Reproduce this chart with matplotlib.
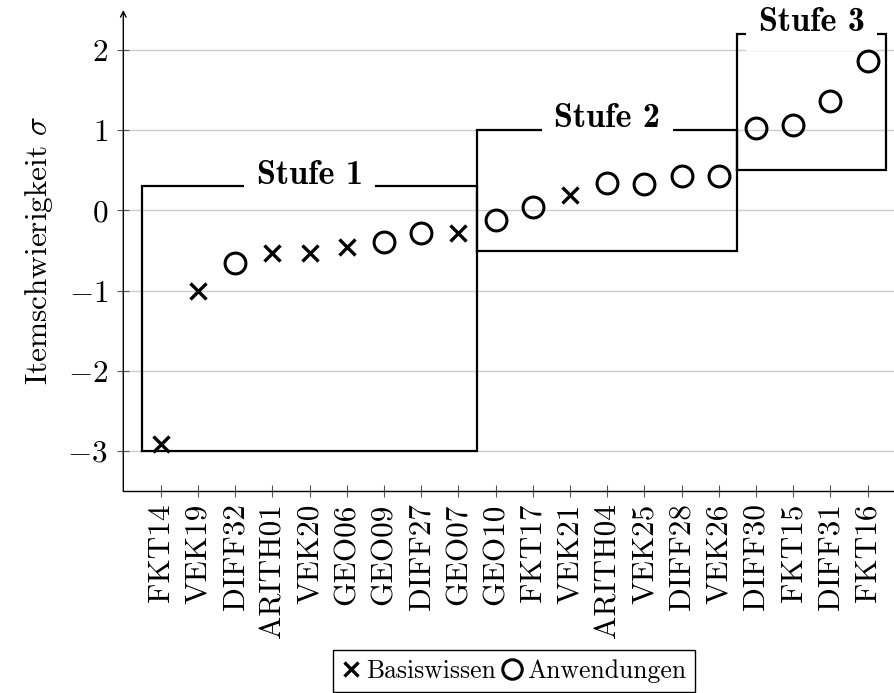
import numpy as np
import matplotlib
matplotlib.use("Agg")
import matplotlib.pyplot as plt
from matplotlib.lines import Line2D

plt.rcParams["font.family"] = "serif"
plt.rcParams["font.serif"] = ["cmr10"]
plt.rcParams["mathtext.fontset"] = "cm"
plt.rcParams["axes.formatter.use_mathtext"] = True

# items in order along the x axis
items = ["FKT14", "VEK19", "DIFF32", "ARITH01", "VEK20", "GEO06", "GEO09",
         "DIFF27", "GEO07", "GEO10", "FKT17", "VEK21", "ARITH04", "VEK25",
         "DIFF28", "VEK26", "DIFF30", "FKT15", "DIFF31", "FKT16"]
difficulty = [-2.91, -1.01, -0.65, -0.53, -0.53, -0.46, -0.40, -0.28, -0.28,
              -0.12, 0.04, 0.19, 0.34, 0.33, 0.43, 0.43, 1.03, 1.07, 1.36, 1.86]
kind = ["B", "B", "A", "B", "B", "B", "A", "A", "B", "A", "A", "B", "A", "A",
        "A", "A", "A", "A", "A", "A"]  # B = Basiswissen, A = Anwendungen

# Stufen boxes
stufe_names = ["Stufe 1", "Stufe 2", "Stufe 3"]
stufe_x0 = [0.5, 9.5, 16.5]
stufe_x1 = [9.5, 16.5, 20.5]
stufe_y0 = [-3.0, -0.5, 0.5]
stufe_y1 = [0.3, 1.0, 2.2]

fig = plt.figure(figsize=(8.94, 6.93), dpi=100)
ax = fig.add_axes([123.3 / 894, 1 - 491 / 693, (894 - 123.3) / 894, (491 - 10) / 693])

x = np.arange(1, len(items) + 1)
diff = np.array(difficulty)
kind = np.array(kind)

ax.set_xlim(-0.01, 20.71)
ax.set_ylim(-3.5, 2.5)
ax.set_yticks([-3, -2, -1, 0, 1, 2])
ax.set_xticks(x)
ax.set_xticklabels(items, rotation=90, fontsize=22.5)
ax.tick_params(axis="y", labelsize=22.5, direction="inout", length=8, color="#555555",
               width=0.8, pad=7)
ax.tick_params(axis="x", direction="inout", length=8, color="#555555", width=0.8, pad=5)
ax.grid(axis="y", color="#cccccc", linewidth=1.0)
ax.set_axisbelow(True)
for s in ["top", "right", "left"]:
    ax.spines[s].set_visible(False)
ax.spines["bottom"].set_linewidth(1.0)
ax.annotate("", xy=(0, 1.0), xytext=(0, 0), xycoords="axes fraction",
            arrowprops=dict(arrowstyle="->", lw=1.0, color="black",
                            shrinkA=0, shrinkB=0, mutation_scale=10))

ax.set_ylabel(r"Itemschwierigkeit $\sigma$", fontsize=22.5, labelpad=9)

for name, a, b, c, d in zip(stufe_names, stufe_x0, stufe_x1, stufe_y0, stufe_y1):
    ax.plot([a, b, b, a, a], [c, c, d, d, c], color="black", lw=1.6, zorder=2,
            solid_joinstyle="miter", clip_on=False)
    ax.annotate(name, xy=((a + b) / 2, d), xytext=(0, 2), textcoords="offset points",
                ha="center", va="baseline", fontsize=24.5, family="cmb10",
                bbox=dict(facecolor="white", edgecolor="none", pad=9), zorder=3)

mb = kind == "B"
ma = kind == "A"
ax.plot(x[mb], diff[mb], linestyle="none", marker="x", markersize=11,
        markeredgewidth=2.4, color="black", zorder=5, clip_on=False)
ax.plot(x[ma], diff[ma], linestyle="none", marker="o", markersize=15,
        markeredgewidth=2.2, markerfacecolor="none", markeredgecolor="black",
        zorder=5, clip_on=False)

handles = [
    Line2D([], [], linestyle="none", marker="x", markersize=10, markeredgewidth=2.4, color="black"),
    Line2D([], [], linestyle="none", marker="o", markersize=14, markeredgewidth=2.2,
           markerfacecolor="none", markeredgecolor="black"),
]
leg = fig.legend(handles, ["Basiswissen", "Anwendungen"], loc="upper center",
                 bbox_to_anchor=(514 / 894, 1 - 650 / 693), ncol=2, fontsize=18.5,
                 frameon=True, fancybox=False, edgecolor="black", framealpha=1,
                 handlelength=0.7, handletextpad=0.25, columnspacing=0.25,
                 borderpad=0.35, borderaxespad=0)
leg.get_frame().set_linewidth(1.0)

fig.savefig("out.png", dpi=100)
